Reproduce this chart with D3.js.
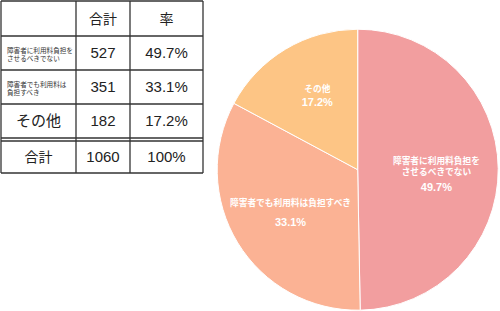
<!DOCTYPE html>
<html>
<head>
<meta charset="utf-8">
<script src="https://cdn.jsdelivr.net/npm/d3@7"></script>
<style>
  body { margin: 0; background: #fff; }
  text { font-family: "Liberation Sans", "Noto Sans CJK JP", sans-serif; }
</style>
</head>
<body>
<div id="chart"></div>
<script>
// data
var categories = ["障害者に利用料負担をさせるべきでない", "障害者でも利用料は負担すべき", "その他"];
var tableLabels = [["障害者に利用料負担を", "させるべきでない"], ["障害者でも利用料は", "負担すべき"], ["その他"]];
var pieLabels = [["障害者に利用料負担を", "させるべきでない"], ["障害者でも利用料は負担すべき"], ["その他"]];
var counts = [527, 351, 182];
var rates = [49.7, 33.1, 17.2];
var totalCount = 1060;
var headers = ["", "合計", "率"];
var colors = ["#f29e9f", "#fbb294", "#fdc585"];

var width = 500, height = 311;

var svg = d3.select("#chart").append("svg")
    .attr("width", width)
    .attr("height", height);

// ---- table ----
var colX = [1, 76, 130, 203];
var rowY = [1, 36, 70, 104, 138, 173];
var tbl = svg.append("g").attr("class", "table");

// horizontal lines
rowY.forEach(function(y, i) {
    tbl.append("line")
        .attr("x1", colX[0]).attr("x2", colX[3])
        .attr("y1", y).attr("y2", y)
        .attr("stroke", "#333").attr("stroke-width", 1.3);
});
// double line above the total row
tbl.append("line")
    .attr("x1", colX[0]).attr("x2", colX[3])
    .attr("y1", rowY[4] + 3).attr("y2", rowY[4] + 3)
    .attr("stroke", "#333").attr("stroke-width", 1.3);

colX.forEach(function(x) {
    tbl.append("line")
        .attr("x1", x).attr("x2", x)
        .attr("y1", rowY[0]).attr("y2", rowY[5])
        .attr("stroke", "#333").attr("stroke-width", 1.3);
});

function cx(c) { return (colX[c] + colX[c + 1]) / 2; }
function cy(r) { return (rowY[r] + rowY[r + 1]) / 2 + (r == 4 ? 1.5 : 0); }

// headers
headers.forEach(function(h, c) {
    if (!h) return;
    tbl.append("text")
        .attr("x", cx(c)).attr("y", cy(0))
        .attr("text-anchor", "middle").attr("dy", "0.36em")
        .attr("font-size", 14).attr("fill", "#222")
        .text(h);
});

// data rows
counts.forEach(function(v, i) {
    var r = i + 1;
    var lab = tableLabels[i];
    if (lab.length > 1) {
        lab.forEach(function(l, j) {
            tbl.append("text")
                .attr("x", colX[0] + 6)
                .attr("y", cy(r) + (j - 0.5) * 8.5 + 1.5)
                .attr("dy", "0.36em")
                .attr("font-size", 6.6).attr("fill", "#333")
                .text(l);
        });
    } else {
        tbl.append("text")
            .attr("x", cx(0)).attr("y", cy(r))
            .attr("text-anchor", "middle").attr("dy", "0.36em")
            .attr("font-size", 15).attr("fill", "#222")
            .text(lab[0]);
    }
    tbl.append("text")
        .attr("x", cx(1)).attr("y", cy(r))
        .attr("text-anchor", "middle").attr("dy", "0.36em")
        .attr("font-size", 15).attr("fill", "#222")
        .text(v);
    tbl.append("text")
        .attr("x", cx(2)).attr("y", cy(r))
        .attr("text-anchor", "middle").attr("dy", "0.36em")
        .attr("font-size", 15).attr("fill", "#222")
        .text(rates[i].toFixed(1) + "%");
});

// total row
tbl.append("text")
    .attr("x", cx(0)).attr("y", cy(4))
    .attr("text-anchor", "middle").attr("dy", "0.36em")
    .attr("font-size", 14).attr("fill", "#222")
    .text("合計");
tbl.append("text")
    .attr("x", cx(1)).attr("y", cy(4))
    .attr("text-anchor", "middle").attr("dy", "0.36em")
    .attr("font-size", 15).attr("fill", "#222")
    .text(totalCount);
tbl.append("text")
    .attr("x", cx(2)).attr("y", cy(4))
    .attr("text-anchor", "middle").attr("dy", "0.36em")
    .attr("font-size", 15).attr("fill", "#222")
    .text("100%");

// ---- pie ----
var radius = 140.5;
var pieG = svg.append("g")
    .attr("transform", "translate(357.7,169.7)");

var pie = d3.pie().sort(null).value(function(d) { return d; });
var arc = d3.arc().innerRadius(0).outerRadius(radius);
var labelArc = d3.arc().innerRadius(radius * 0.56).outerRadius(radius * 0.56);

// vertical offsets of label lines / percent from the label centroid
var nameOffset = [-8, -7.5, -13];
var pctOffset = [18, 11, 0];

var arcs = pie(counts);

pieG.selectAll("path.slice")
    .data(arcs)
    .enter().append("path")
    .attr("class", "slice")
    .attr("d", arc)
    .attr("fill", function(d, i) { return colors[i]; })
    .attr("stroke", "#fff")
    .attr("stroke-width", 1);

var labels = pieG.selectAll("g.lbl")
    .data(arcs)
    .enter().append("g")
    .attr("class", "lbl")
    .attr("transform", function(d) {
        var c = labelArc.centroid(d);
        return "translate(" + c[0] + "," + c[1] + ")";
    });

labels.each(function(d, i) {
    var g = d3.select(this);
    var lines = pieLabels[i];
    lines.forEach(function(l, j) {
        g.append("text")
            .attr("text-anchor", "middle")
            .attr("y", nameOffset[i] + j * 10.5)
            .attr("dy", "0.36em")
            .attr("font-size", 8.7).attr("font-weight", "bold")
            .attr("fill", "#fff")
            .text(l);
    });
    g.append("text")
        .attr("text-anchor", "middle")
        .attr("y", pctOffset[i])
        .attr("dy", "0.36em")
        .attr("font-size", 11).attr("font-weight", "bold")
        .attr("fill", "#fff")
        .text(rates[i].toFixed(1) + "%");
});
</script>
</body>
</html>
